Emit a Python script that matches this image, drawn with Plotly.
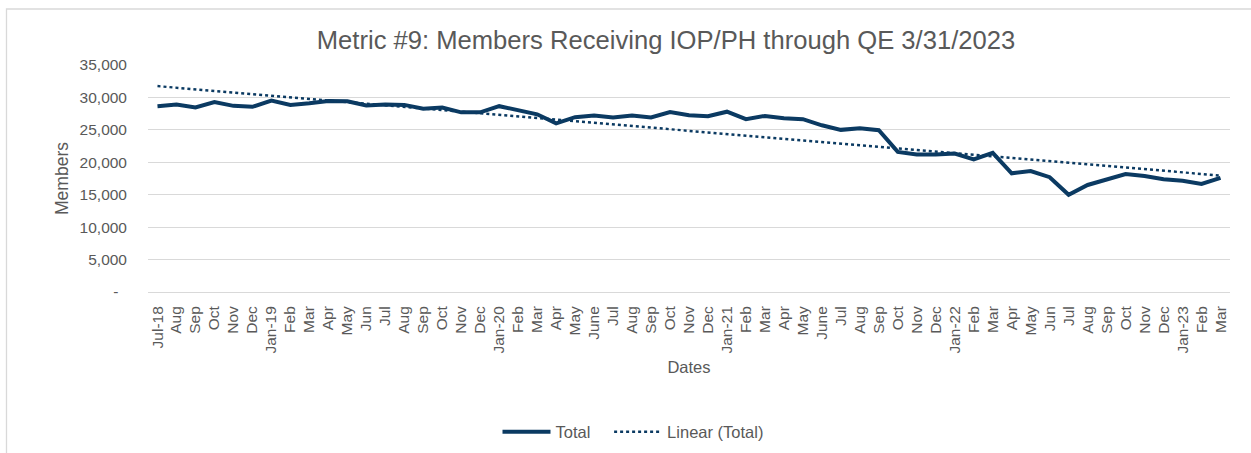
import numpy as np
import plotly.graph_objects as go

# ---- data ----
month_labels = [
    "Jul-18", "Aug", "Sep", "Oct", "Nov", "Dec",
    "Jan-19", "Feb", "Mar", "Apr", "May", "Jun", "Jul", "Aug", "Sep", "Oct", "Nov", "Dec",
    "Jan-20", "Feb", "Mar", "Apr", "May", "June", "Jul", "Aug", "Sep", "Oct", "Nov", "Dec",
    "Jan-21", "Feb", "Mar", "Apr", "May", "June", "Jul", "Aug", "Sep", "Oct", "Nov", "Dec",
    "Jan-22", "Feb", "Mar", "Apr", "May", "Jun", "Jul", "Aug", "Sep", "Oct", "Nov", "Dec",
    "Jan-23", "Feb", "Mar",
]
total_members = [
    28650, 28900, 28450, 29300, 28700, 28550,
    29500, 28850, 29100, 29450, 29400, 28750, 28900, 28850, 28250, 28450, 27700, 27700,
    28650, 28050, 27400, 26000, 26950, 27200, 26900, 27200, 26900, 27750, 27250, 27100,
    27800, 26650, 27150, 26800, 26650, 25700, 25000, 25250, 24950, 21600, 21200, 21200,
    21350, 20450, 21450, 18300, 18650, 17700, 15000, 16500, 17400, 18200, 17900, 17400,
    17150, 16650, 17600,
]
y_tick_values = [0, 5000, 10000, 15000, 20000, 25000, 30000, 35000]
y_tick_labels = ["-\u00a0\u00a0", "5,000", "10,000", "15,000", "20,000", "25,000", "30,000", "35,000"]

# ---- derived ----
idx = np.arange(len(total_members))
slope, intercept = np.polyfit(idx, total_members, 1)
trend = slope * idx + intercept

W, H = 1251, 453
L, R, T, B = 148, 21, 65, 161
pw, ph = W - L - R, H - T - B

def px_x(x):
    return (x - L) / pw

def px_y(y):
    return (H - B - y) / ph

NAVY = "#0B3A62"
GRAY_TXT = "#595959"
GRID = "#D9D9D9"
FONT = "Liberation Sans, Arial, sans-serif"

fig = go.Figure()
fig.add_trace(go.Scatter(
    x=idx, y=total_members, mode="lines", name="Total\u00a0\u00a0\u00a0",
    line=dict(color=NAVY, width=4),
))
fig.add_trace(go.Scatter(
    x=idx, y=trend, mode="lines", name="Linear (Total)",
    line=dict(color=NAVY, width=2.5, dash="dot"),
))

fig.update_layout(
    width=W, height=H,
    margin=dict(l=L, r=R, t=T, b=B, autoexpand=False),
    paper_bgcolor="white", plot_bgcolor="white",
    font=dict(family=FONT, color=GRAY_TXT, size=15.5),
    title=dict(
        text="Metric #9: Members Receiving IOP/PH through QE 3/31/2023",
        x=666 / W, xref="container", xanchor="center",
        y=1 - 40 / H, yref="container", yanchor="middle",
        font=dict(size=25.6, color=GRAY_TXT, family=FONT),
    ),
    xaxis=dict(
        range=[-0.5, len(idx) - 0.5],
        tickmode="array", tickvals=list(idx), ticktext=month_labels,
        tickangle=-90, ticks="", showgrid=False,
        showline=True, linecolor=GRID, linewidth=1,
        zeroline=False, ticklabelstandoff=7,
        tickfont=dict(size=15.5, color=GRAY_TXT),
        title=dict(text="Dates", font=dict(size=16.5, color=GRAY_TXT), standoff=8),
        automargin=False,
    ),
    xaxis2=dict(
        overlaying="x", matches="x", anchor="y",
        range=[-0.5, len(idx) - 0.5],
        tickmode="array", tickvals=[i - 0.5 for i in range(len(idx) + 1)],
        ticks="outside", ticklen=5, tickcolor=GRID, tickwidth=1,
        showticklabels=False, showgrid=False, zeroline=False, showline=False,
        side="bottom",
    ),
    yaxis=dict(
        range=[0, 35000],
        tickmode="array", tickvals=y_tick_values, ticktext=y_tick_labels,
        showgrid=True, gridcolor=GRID, gridwidth=1,
        zeroline=False, showline=False, ticks="",
        ticklabelstandoff=20,
        tickfont=dict(size=15.5, color=GRAY_TXT),
        title=dict(text="Members", font=dict(size=17.5, color=GRAY_TXT), standoff=6),
        automargin=False,
    ),
    legend=dict(
        orientation="h", x=px_x(633), xanchor="center",
        y=px_y(432), yanchor="middle",
        font=dict(size=16.5, color=GRAY_TXT, family=FONT),
        itemwidth=48, bgcolor="rgba(0,0,0,0)",
    ),
    shapes=[dict(
        type="rect", xref="paper", yref="paper",
        x0=px_x(6.5), x1=px_x(W + 20), y0=px_y(H + 20), y1=px_y(9),
        line=dict(color=GRID, width=1.3), fillcolor="rgba(0,0,0,0)", layer="below",
    )],
)

fig.write_html(
    "out.html",
    config={"displayModeBar": False},
    post_script="document.body.style.margin='0';document.body.style.padding='0';",
)
